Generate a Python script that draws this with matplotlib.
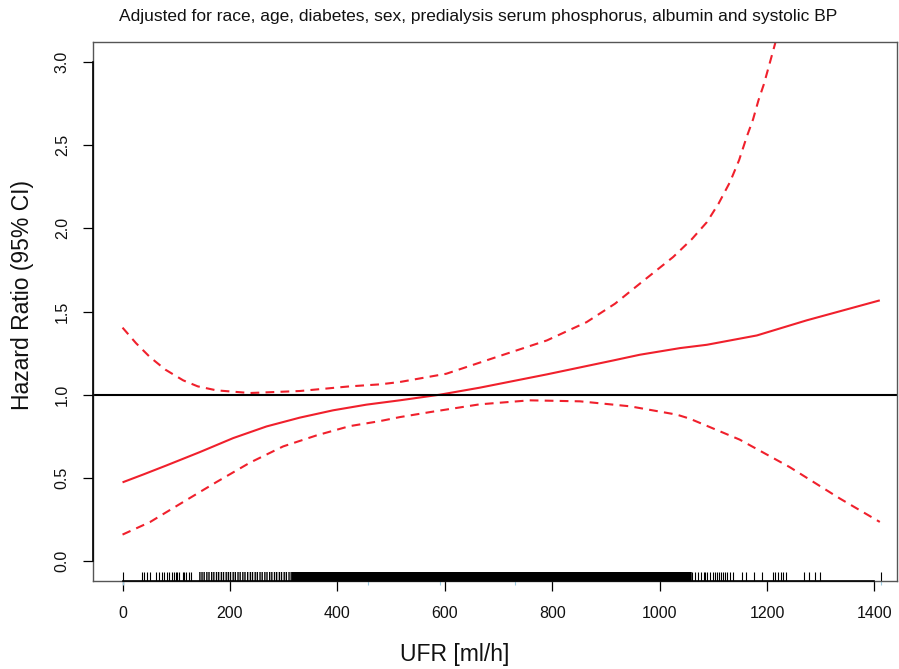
import matplotlib
matplotlib.use("Agg")
import matplotlib.pyplot as plt
import matplotlib.transforms as mtransforms

plt.rcParams['font.family'] = ['Liberation Sans', 'DejaVu Sans']

# ---- data ----
hr_x = [0, 40, 82, 144, 206, 268, 330, 392, 454, 516, 591, 665, 790, 914, 963, 1038, 1088, 1181, 1274, 1410]
hr_y = [0.473, 0.522, 0.575, 0.655, 0.739, 0.809, 0.862, 0.906, 0.940, 0.966, 1.000, 1.042, 1.122, 1.206, 1.240, 1.280, 1.300, 1.356, 1.447, 1.567]

lo_x = [0, 51, 113, 175, 237, 299, 361, 423, 479, 516, 572, 665, 758, 852, 945, 1032, 1056, 1149, 1242, 1336, 1410]
lo_y = [0.159, 0.234, 0.355, 0.475, 0.591, 0.689, 0.755, 0.811, 0.841, 0.865, 0.895, 0.942, 0.966, 0.960, 0.930, 0.880, 0.856, 0.730, 0.565, 0.375, 0.235]

up_x = [0, 25, 51, 80, 113, 140, 175, 237, 330, 423, 479, 516, 603, 696, 790, 864, 917, 963, 1025, 1060,
        1088, 1110, 1131, 1148, 1162, 1174, 1184, 1194, 1203, 1215, 1228]
up_y = [1.403, 1.310, 1.226, 1.150, 1.086, 1.050, 1.026, 1.010, 1.022, 1.050, 1.062, 1.076, 1.126, 1.226, 1.326, 1.436, 1.547, 1.667, 1.827, 1.935,
        2.037, 2.150, 2.278, 2.410, 2.548, 2.655, 2.769, 2.865, 2.969, 3.110, 3.300]

ref_hr = 1.0

rug_low = [0, 36, 40, 45, 52, 63, 68, 74, 77, 82, 86, 93, 96, 99, 102, 105, 112, 115, 119, 124, 128]
rug_mid = [144, 148, 152, 157, 161, 166, 170, 175, 179, 184, 188, 193, 197, 201, 206, 210, 215, 219,
           224, 228, 233, 238, 242, 247, 251, 256, 260, 265, 269, 274, 278, 283, 287, 292, 296, 301,
           305, 310, 314]
rug_dense = [318, 321, 325, 328, 332, 336, 339, 343, 347, 350, 354, 357, 361, 365, 368, 372, 376, 379,
             383, 386, 390, 394, 397, 401, 405, 408, 412, 415, 419, 423, 426, 430, 434, 437, 441, 444,
             448, 452, 455, 459, 463, 466, 470, 473, 477, 481, 484, 488, 492, 495, 499, 502, 506, 510,
             513, 517, 521, 524, 528, 531, 535, 539, 542, 546, 550, 553, 557, 560, 564, 568, 571, 575,
             579, 582, 586, 589, 593, 597, 600, 604, 608, 611, 615, 618, 622, 626, 629, 633, 637, 640,
             644, 647, 651, 655, 658, 662, 666, 669, 673, 676, 680, 684, 687, 691, 695, 698, 702, 705,
             709, 713, 716, 720, 724, 727, 731, 734, 738, 742, 745, 749, 753, 756, 760, 763, 767, 771,
             774, 778, 782, 785, 789, 792, 796, 800, 803, 807, 811, 814, 818, 821, 825, 829, 832, 836,
             840, 843, 847, 850, 854, 858, 861, 865, 869, 872, 876, 879, 883, 887, 890, 894, 898, 901,
             905, 908, 912, 916, 919, 923, 927, 930, 934, 937, 941, 945, 948, 952, 956, 959, 963, 966,
             970, 974, 977, 981, 985, 988, 992, 995, 999, 1003, 1006, 1010, 1014, 1017, 1021, 1024,
             1028, 1032, 1035, 1039, 1043, 1046, 1050, 1053, 1057]
rug_high = [1060, 1066, 1072, 1077, 1082, 1085, 1089, 1094, 1100, 1103, 1106, 1111, 1115, 1118, 1122,
            1125, 1131, 1136, 1154, 1161, 1176, 1191, 1212, 1215, 1221, 1226, 1230, 1236, 1269, 1278,
            1289, 1299, 1412]
rug_events = [0, 457, 591, 731, 1412]

x_ticks = [0, 200, 400, 600, 800, 1000, 1200, 1400]
y_ticks = [0.0, 0.5, 1.0, 1.5, 2.0, 2.5, 3.0]
y_ticklabels = ["0.0", "0.5", "1.0", "1.5", "2.0", "2.5", "3.0"]

title = "Adjusted for race, age, diabetes, sex, predialysis serum phosphorus, albumin and systolic BP"
xlabel = "UFR [ml/h]"
ylabel = "Hazard Ratio (95% CI)"

# ---- figure ----
W, H = 899, 669
fig = plt.figure(figsize=(W / 100, H / 100), dpi=100)
L, R, T, B = 93, 897, 42, 581
ax = fig.add_axes([L / W, 1 - B / H, (R - L) / W, (B - T) / H])

red = '#F0202C'
ax.plot(hr_x, hr_y, color=red, lw=1.5, solid_capstyle='butt')
ax.plot(lo_x, lo_y, color=red, lw=1.5, dashes=(4.2, 3.0))
ax.plot(up_x, up_y, color=red, lw=1.5, dashes=(4.2, 3.0))
ax.axhline(ref_hr, color='black', lw=1.5)

xmin, xmax = -55, 1442
ymin, ymax = -0.12, 3.12
ax.set_xlim(xmin, xmax)
ax.set_ylim(ymin, ymax)

# rug
trans = mtransforms.blended_transform_factory(ax.transData, ax.transAxes)
rug_h = 9 / (B - T)
ax.vlines(rug_low + rug_high, 0, rug_h, transform=trans, color='black', lw=0.8)
ax.vlines(rug_mid, 0, rug_h, transform=trans, color='black', lw=1.0, snap=False)
ax.vlines(rug_dense, 0, rug_h, transform=trans, color='black', lw=2.2, snap=False)
ax.vlines(rug_events, -4 / (B - T), 0, transform=trans, color='#9ecae1', lw=0.8, clip_on=False)

# box and axes lines
for s in ax.spines.values():
    s.set_color('#555555')
    s.set_linewidth(1.0)
ax.plot([x_ticks[0], x_ticks[-1]], [ymin, ymin], color='black', lw=1.2, clip_on=False, zorder=5)
ax.plot([xmin, xmin], [y_ticks[0], y_ticks[-1]], color='black', lw=1.2, clip_on=False, zorder=5)

ax.set_xticks(x_ticks)
ax.set_xticklabels([str(v) for v in x_ticks])
ax.set_yticks(y_ticks)
ax.set_yticklabels(y_ticklabels, rotation=90, va='center')
ax.tick_params(axis='both', direction='out', length=7.2, width=0.9, color='black',
               labelsize=11.5, labelcolor='#111111')
ax.tick_params(axis='x', pad=10.5)
ax.tick_params(axis='y', pad=9.5)

fig.text(478 / W, 1 - 16 / H, title, ha='center', va='center', fontsize=12.5, color='#111111')
fig.text(455 / W, 1 - 654 / H, xlabel, ha='center', va='center', fontsize=16.5, color='#111111')
fig.text(23 / W, 1 - 295 / H, ylabel, ha='center', va='center', rotation=90, fontsize=16.5, color='#111111')

fig.savefig("out.png", dpi=100)
